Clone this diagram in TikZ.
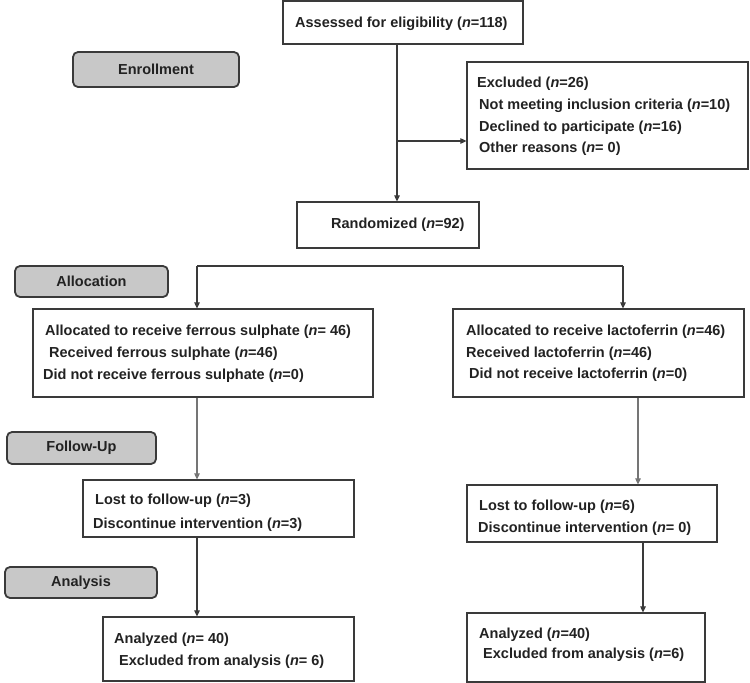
\documentclass[tikz,border=0pt]{standalone}
\usepackage{fontspec}
\setmainfont{Liberation Sans}
\usetikzlibrary{arrows.meta}
\definecolor{lab}{HTML}{C8C8C8}
\definecolor{ink}{HTML}{222222}
\definecolor{edge}{HTML}{3A3A3A}
\tikzset{
  box/.style={draw=edge, line width=1.2pt, fill=white, inner sep=0pt},
  stage/.style={draw=edge, line width=1.8pt, fill=lab, rounded corners=5pt, inner sep=0pt,
    font=\fontsize{14.5pt}{17pt}\selectfont\bfseries, text=ink},
  txt/.style={anchor=base west, inner sep=0pt, text=ink, font=\fontsize{14.5pt}{17pt}\selectfont\bfseries},
  arr/.style={draw=edge, line width=1.1pt, -{Triangle[length=6pt,width=5.5pt]}},
  ln/.style={draw=edge, line width=1.1pt}
}
\newcommand{\nn}{\textit{n}}
\begin{document}
\begin{tikzpicture}[x=1pt,y=-1pt]
\useasboundingbox (0,0) rectangle (750,683);
% stage labels
\node[stage, minimum width=166pt, minimum height=35pt] (enr) at (156,69.5) {Enrollment};
\node[stage, minimum width=153pt, minimum height=31pt] (alloc) at (91.5,281.5) {Allocation};
\node[stage, minimum width=149pt, minimum height=32pt] (fol) at (81.5,448) {Follow-Up};
\node[stage, minimum width=152pt, minimum height=31pt] (ana) at (81,582.5) {Analysis};
% boxes
\node[box, minimum width=240pt, minimum height=43pt] (assess) at (403,22.5) {};
\node[box, minimum width=281pt, minimum height=107pt] (excl) at (607.5,115.5) {};
\node[box, minimum width=182pt, minimum height=46pt] (rand) at (388,225) {};
\node[box, minimum width=340pt, minimum height=88pt] (alL) at (203,353) {};
\node[box, minimum width=291pt, minimum height=88pt] (alR) at (598.5,353) {};
\node[box, minimum width=271pt, minimum height=57pt] (lostL) at (218.5,508.5) {};
\node[box, minimum width=250pt, minimum height=57pt] (lostR) at (592,513.5) {};
\node[box, minimum width=251pt, minimum height=64pt] (anL) at (228.5,649) {};
\node[box, minimum width=238pt, minimum height=69pt] (anR) at (586,647.5) {};
% texts
\node[txt] (t0) at (295,27.5) {Assessed for eligibility (\nn=118)};
\node[txt] (e1) at (477,87) {Excluded (\nn=26)};
\node[txt] (e2) at (479,109) {Not meeting inclusion criteria (\nn=10)};
\node[txt] (e3) at (479,131) {Declined to participate (\nn=16)};
\node[txt] (e4) at (479,152) {Other reasons (\nn= 0)};
\node[txt] (r1) at (331,228) {Randomized (\nn=92)};
\node[txt] (a1) at (45,335) {Allocated to receive ferrous sulphate (\nn= 46)};
\node[txt] (a2) at (49,357) {Received ferrous sulphate (\nn=46)};
\node[txt] (a3) at (43,379) {Did not receive ferrous sulphate (\nn=0)};
\node[txt] (b1) at (466,335) {Allocated to receive lactoferrin (\nn=46)};
\node[txt] (b2) at (466,357) {Received lactoferrin (\nn=46)};
\node[txt] (b3) at (469,378) {Did not receive lactoferrin (\nn=0)};
\node[txt] (l1) at (95,504) {Lost to follow-up (\nn=3)};
\node[txt] (l2) at (93,528) {Discontinue intervention (\nn=3)};
\node[txt] (m1) at (479,510) {Lost to follow-up (\nn=6)};
\node[txt] (m2) at (478,532) {Discontinue intervention (\nn= 0)};
\node[txt] (p1) at (114,643) {Analyzed (\nn= 40)};
\node[txt] (p2) at (119,665) {Excluded from analysis (\nn= 6)};
\node[txt] (q1) at (479,638) {Analyzed (\nn=40)};
\node[txt] (q2) at (483,658) {Excluded from analysis (\nn=6)};
% connectors
\coordinate (jx) at (397,141);
\draw[arr] (jx |- assess.south) -- (jx |- rand.north);
\draw[arr] (jx) -- (jx -| excl.west);
\coordinate (sl) at (197,266);
\coordinate (sr) at (623,266);
\draw[ln] (sl) -- (sr);
\draw[arr] (sl) -- (sl |- alL.north);
\draw[arr] (sr) -- (sr |- alR.north);
\coordinate (cl) at (197,0);
\draw[arr, draw=edge!70] (cl |- alL.south) -- (cl |- lostL.north);
\draw[arr] (cl |- lostL.south) -- (cl |- anL.north);
\coordinate (cr) at (638,0);
\draw[arr, draw=edge!70] (cr |- alR.south) -- (cr |- lostR.north);
\coordinate (dr) at (643,0);
\draw[arr] (dr |- lostR.south) -- (dr |- anR.north);
\end{tikzpicture}
\end{document}
